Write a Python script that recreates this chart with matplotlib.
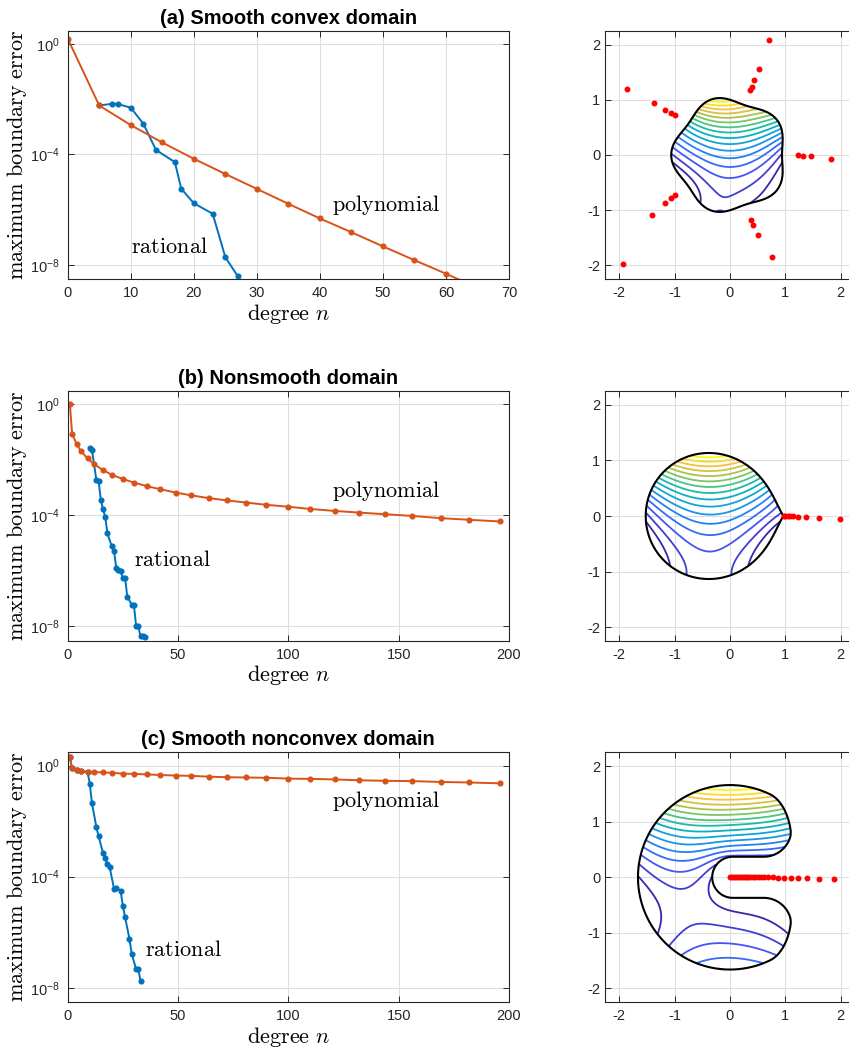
import numpy as np
import matplotlib
matplotlib.use("Agg")
import matplotlib.pyplot as plt
from matplotlib.colors import LinearSegmentedColormap

plt.rcParams['font.family'] = ['Liberation Sans', 'DejaVu Sans']
plt.rcParams['mathtext.fontset'] = 'cm'
plt.rcParams['axes.unicode_minus'] = False

# ---- convergence data, log10 of the maximum boundary error ----
poly_a_n = [0, 5, 10, 15, 20, 25, 30, 35, 40, 45, 50, 55, 60, 65]
poly_a_log = [0.19, -2.23, -2.94, -3.57, -4.16, -4.71, -5.25, -5.79, -6.32, -6.82, -7.33, -7.83, -8.32, -8.83]
rat_a_n = [5, 7, 8, 10, 12, 14, 17, 18, 20, 23, 25, 27]
rat_a_log = [-2.23, -2.17, -2.18, -2.31, -2.89, -3.84, -4.28, -5.24, -5.77, -6.15, -7.72, -8.42]

poly_b_n = [1, 2, 4, 6, 9, 12, 16, 20, 25, 30, 36, 42, 49, 56, 64, 72, 81, 90, 100, 110, 121, 132, 144, 156, 169, 182, 196]
poly_b_log = [0.0, -1.06, -1.43, -1.69, -1.95, -2.16, -2.37, -2.54, -2.69, -2.82, -2.95, -3.06, -3.18, -3.28, -3.38,
              -3.46, -3.54, -3.62, -3.69, -3.77, -3.84, -3.90, -3.96, -4.02, -4.10, -4.16, -4.22]
rat_b_n = [10, 11, 13, 14, 15, 16, 17, 18, 20, 21, 22, 23, 24, 25, 26, 27, 29, 30, 31, 32, 33, 34, 35]
rat_b_log = [-1.56, -1.65, -2.73, -2.76, -3.44, -3.78, -4.05, -4.65, -5.12, -5.27, -5.89, -5.97, -6.02, -6.26,
             -6.24, -6.93, -7.21, -7.23, -7.98, -8.00, -8.35, -8.35, -8.37]

poly_c_n = poly_b_n
poly_c_log = [0.29, -0.10, -0.16, -0.20, -0.22, -0.23, -0.25, -0.26, -0.29, -0.30, -0.32, -0.34, -0.36, -0.37, -0.40,
              -0.42, -0.43, -0.44, -0.47, -0.48, -0.50, -0.53, -0.55, -0.56, -0.59, -0.61, -0.64]
rat_c_n = [1, 2, 4, 6, 9, 10, 11, 13, 14, 16, 17, 18, 19, 21, 22, 24, 25, 26, 28, 29, 31, 32, 33]
rat_c_log = [0.29, -0.10, -0.16, -0.20, -0.23, -0.65, -1.36, -2.22, -2.55, -3.14, -3.32, -3.56, -3.65, -4.44,
             -4.40, -4.52, -5.06, -5.45, -6.25, -6.77, -7.33, -7.33, -7.75]

# ---- poles of the rational approximations (red dots) ----
poles_a_x = [-1.85, -1.37, -1.17, -1.06, -1.00, 0.70, 0.52, 0.43, 0.40, 0.37, 1.23, 1.31, 1.47, 1.82,
             -1.93, -1.40, -1.17, -1.06, -1.00, 0.38, 0.42, 0.50, 0.75]
poles_a_y = [1.20, 0.94, 0.82, 0.76, 0.72, 2.08, 1.56, 1.35, 1.23, 1.18, 0.0, -0.01, -0.02, -0.07,
             -1.97, -1.09, -0.87, -0.77, -0.73, -1.18, -1.27, -1.45, -1.85]
poles_b_x = [0.975, 1.00, 1.04, 1.08, 1.14, 1.23, 1.37, 1.60, 1.98]
poles_b_y = [0.0, 0.0, 0.0, 0.0, -0.006, -0.012, -0.018, -0.036, -0.054]
poles_c_x = [0.0, 0.036, 0.072, 0.108, 0.144, 0.18, 0.217, 0.253, 0.289, 0.325, 0.367, 0.409, 0.457, 0.505,
             0.553, 0.614, 0.686, 0.776, 0.866, 0.975, 1.095, 1.227, 1.396, 1.606, 1.871]
poles_c_y = [0.0] * 18 + [-0.004, -0.008, -0.012, -0.016, -0.02, -0.025, -0.03]

titles = ['(a) Smooth convex domain', '(b) Nonsmooth domain', '(c) Smooth nonconvex domain']
xmax = [70, 200, 200]
xstep = [10, 50, 50]
label_pos = [((42, -5.84), (10, -7.38)), ((120, -3.12), (30, -5.64)), ((120, -1.28), (35, -6.65))]

BLUE = '#0072BD'
ORANGE = '#D95319'
GRAY = '#262626'

parula = LinearSegmentedColormap.from_list('parula', [
    (0.2422, 0.1504, 0.6603), (0.2810, 0.3228, 0.9579), (0.1540, 0.4826, 0.9798),
    (0.0704, 0.6324, 0.8742), (0.0267, 0.7091, 0.7211), (0.3517, 0.7876, 0.4622),
    (0.7173, 0.7577, 0.2490), (0.9923, 0.7513, 0.2401), (0.9763, 0.9831, 0.0538)])


# ---- domains as implicit functions (negative inside) ----
def round_int(d1, d2, r):
    u = np.hypot(np.maximum(d1 + r, 0), np.maximum(d2 + r, 0))
    return np.minimum(-r, np.maximum(d1, d2)) + u


def domain_a(X, Y):
    th = np.arctan2(Y, X)
    return np.hypot(X, Y) - (1 - 0.06 * np.cos(5 * th))


def domain_b(X, Y):
    Z = X + 1j * Y + 0.41
    ph = np.abs(np.angle(Z))
    return np.abs(Z) - (1.08 + 0.295 / (1 + ph / 0.35))


def domain_c(X, Y):
    disk = np.hypot(X, Y) - 1.66
    cut = X - 1.11
    slot = 0.37 - np.hypot(np.maximum(0.05 - X, 0), Y)
    return round_int(round_int(disk, cut, 0.38), slot, 0.5)


def basis(z, zb, poles, deg, scale):
    w = z / scale
    yield np.ones(z.shape)
    wk = np.ones_like(w)
    for k in range(deg):
        wk = wk * w
        yield wk.real
        yield wk.imag
    for p in poles:
        d = np.abs(zb - p).min()
        q = d / (z - p)
        yield q.real
        yield q.imag


def style_axes(ax):
    ax.tick_params(direction='in', which='both', top=True, right=True, colors=GRAY,
                   labelsize=10.5, length=4, width=0.7)
    ax.tick_params(axis='x', pad=5)
    for s in ax.spines.values():
        s.set_color(GRAY)
        s.set_linewidth(0.8)
    ax.grid(True, color='#dedede', linewidth=0.8)
    ax.set_axisbelow(True)


W, H = 849, 1053
fig = plt.figure(figsize=(W / 100, H / 100), dpi=100)


def px_axes(x0, y0, x1, y1):
    return fig.add_axes([x0 / W, 1 - y1 / H, (x1 - x0) / W, (y1 - y0) / H])


rows = [(30.7, 279.3), (391, 641), (752.3, 1002.3)]
conv = [(poly_a_n, poly_a_log, rat_a_n, rat_a_log),
        (poly_b_n, poly_b_log, rat_b_n, rat_b_log),
        (poly_c_n, poly_c_log, rat_c_n, rat_c_log)]
poles = [(poles_a_x, poles_a_y), (poles_b_x, poles_b_y), (poles_c_x, poles_c_y)]
domains = [domain_a, domain_b, domain_c]
fit = [(22, 1.1), (22, 1.4), (26, 1.7)]

for i, (top, bot) in enumerate(rows):
    # left: convergence curves
    ax = px_axes(67.7, top, 509, bot)
    pn, plog, rn, rlog = conv[i]
    ax.semilogy(rn, 10.0 ** np.array(rlog), '-o', color=BLUE, lw=1.4, ms=3.4)
    ax.semilogy(pn, 10.0 ** np.array(plog), '-o', color=ORANGE, lw=1.4, ms=3.4)
    ax.set_xlim(0, xmax[i])
    ax.set_xticks(np.arange(0, xmax[i] + 1, xstep[i]))
    ax.set_ylim(3e-9, 3)
    ax.set_yticks([1e-8, 1e-4, 1e0])
    ax.minorticks_off()
    style_axes(ax)
    ax.tick_params(axis='y', pad=6)
    ax.set_title(titles[i], fontsize=14.5, fontweight='bold', pad=5)
    ax.set_xlabel(r'$\mathrm{degree}\ n$', fontsize=16, labelpad=1)
    ax.set_ylabel(r'$\mathrm{maximum\ boundary\ error}$', fontsize=16)
    ax.yaxis.set_label_coords(-0.088, 0.5)
    (px_, py_), (rx_, ry_) = label_pos[i]
    ax.text(px_, 10 ** py_, r'$\mathrm{polynomial}$', fontsize=16, va='center', ha='left')
    ax.text(rx_, 10 ** ry_, r'$\mathrm{rational}$', fontsize=16, va='center', ha='left')

    # right: domain, solution contours and poles
    ax2 = px_axes(605.3, top, 854.6, bot)
    g = np.linspace(-2.25, 2.25, 500)
    X, Y = np.meshgrid(g, g)
    F = domains[i](X, Y)
    cs = ax2.contour(X, Y, F, [0], colors='k', linewidths=1.5, zorder=4)
    seg = max(cs.allsegs[0], key=len)
    zb = seg[:, 0] + 1j * seg[:, 1]
    pz = np.array(poles[i][0]) + 1j * np.array(poles[i][1])
    deg, scale = fit[i]
    A = np.column_stack(list(basis(zb, zb, pz, deg, scale)))
    hb = zb.imag ** 2 + zb.imag
    coef = np.linalg.lstsq(A, hb, rcond=None)[0]
    inside = F < 0
    zi = X[inside] + 1j * Y[inside]
    ui = np.zeros(zi.shape)
    for c, col in zip(coef, basis(zi, zb, pz, deg, scale)):
        ui += c * col
    U = np.full(X.shape, np.nan)
    U[inside] = ui
    lv = np.linspace(np.nanmin(U), np.nanmax(U), 18)[1:-1]
    ax2.contour(X, Y, U, lv, cmap=parula, vmin=lv[0], vmax=lv[-1], linewidths=1.3, zorder=3)
    ax2.plot(poles[i][0], poles[i][1], '.', color='red', ms=6.5, zorder=5)
    ax2.set_xlim(-2.25, 2.25)
    ax2.set_ylim(-2.25, 2.25)
    ax2.set_xticks([-2, -1, 0, 1, 2])
    ax2.set_yticks([-2, -1, 0, 1, 2])
    style_axes(ax2)

fig.savefig('out.png', dpi=100)
